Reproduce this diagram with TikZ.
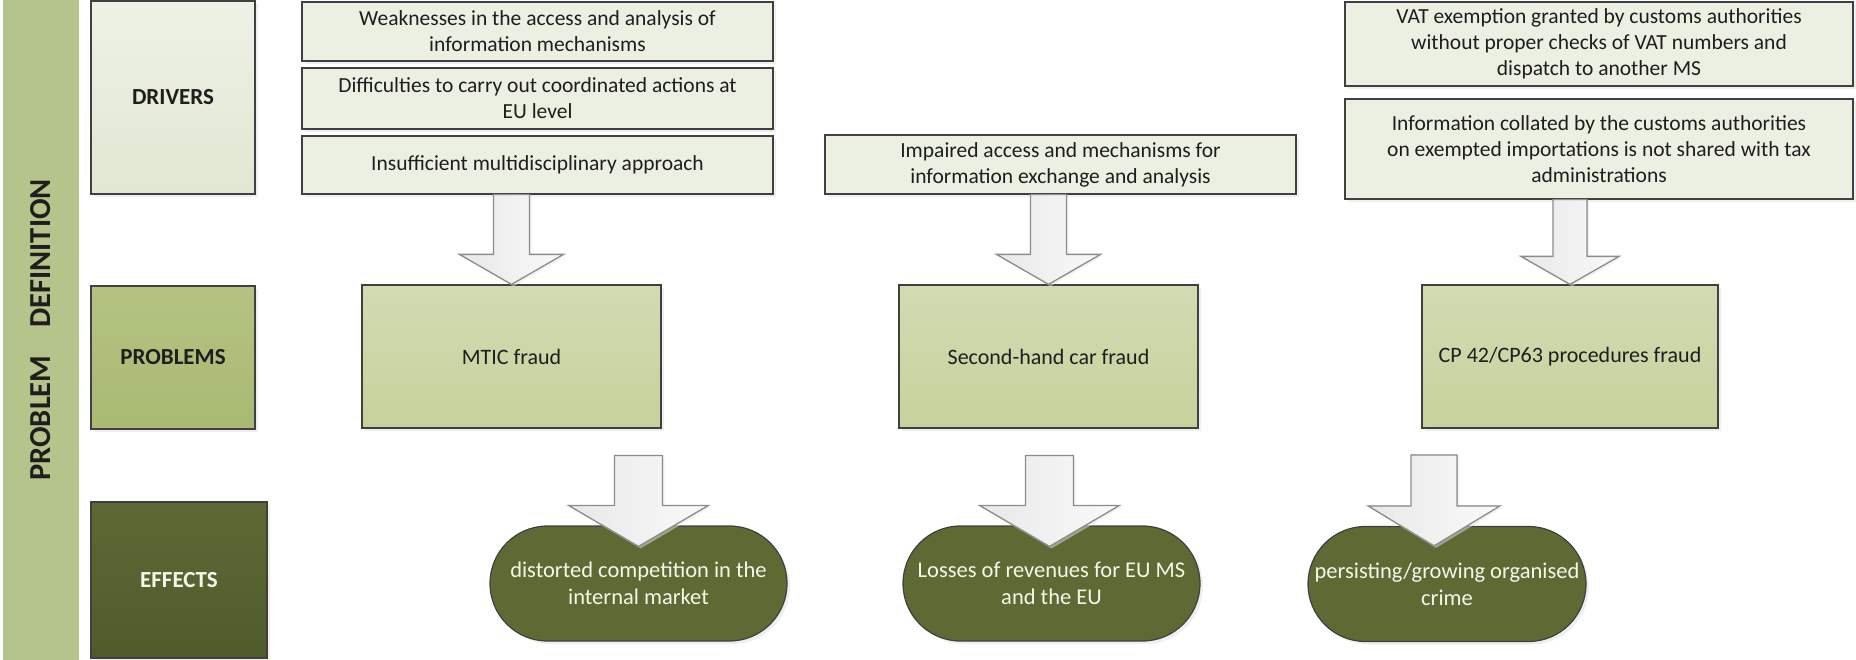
\documentclass[tikz,border=0pt]{standalone}
\usepackage{fontspec}
\setmainfont{Carlito}
\usepackage{tikz}
\usetikzlibrary{calc,shadows,shapes.misc}

% big hollow arrow: top point, tip point, half shaft, half head, head length
\newcommand{\blockarrow}[5]{%
	\filldraw[block arrow] ($(#1)+(-#3,0)$) -- ($(#2)+(-#3,-#5)$) -- ($(#2)+(-#4,-#5)$) -- (#2)
		-- ($(#2)+(#4,-#5)$) -- ($(#2)+(#3,-#5)$) -- ($(#1)+(#3,0)$) -- cycle;}

\begin{document}
\begin{tikzpicture}
			[x=1pt,y=-1pt,line cap=round,
			%Styles
			shade box/.style={drop shadow={shadow xshift=3pt,shadow yshift=-3pt,fill=black!12}},
			label box/.style={rectangle,draw=boxline,line width=1.2pt,shade box,minimum width=164pt,font=\fontsize{23}{28}\selectfont\bfseries},
			driver box/.style={rectangle,draw=boxline,line width=1.2pt,shade box,fill=drvfill,align=center,inner sep=1pt,text=textdark,font=\fontsize{21.5}{26}\selectfont},
			problem box/.style={rectangle,draw=boxline,line width=1.2pt,shade box,top color=probtop,bottom color=probbot,minimum width=299pt,minimum height=143pt,text=textdark,font=\fontsize{22}{26}\selectfont},
			effect box/.style={rounded rectangle,draw=boxline,line width=1.2pt,shade box,fill=efffill,minimum height=115pt,align=center,inner sep=1pt,text=efftext,font=\fontsize{22.5}{27}\selectfont},
			block arrow/.style={draw=arrowline,line width=1.3pt,line cap=butt,left color=black!9,right color=black!2,drop shadow={shadow xshift=2pt,shadow yshift=-2pt,fill=black!10}}
			]
			
			%Colors
			\definecolor{barfill}{RGB}{181,196,139}
			\definecolor{drvtop}{RGB}{238,241,230}
			\definecolor{drvbot}{RGB}{225,231,210}
			\definecolor{drvfill}{RGB}{236,240,227}
			\definecolor{plabtop}{RGB}{180,195,130}
			\definecolor{plabbot}{RGB}{169,186,114}
			\definecolor{probtop}{RGB}{210,219,178}
			\definecolor{probbot}{RGB}{198,210,156}
			\definecolor{elabtop}{RGB}{93,105,53}
			\definecolor{elabbot}{RGB}{80,91,44}
			\definecolor{efffill}{RGB}{94,106,52}
			\definecolor{boxline}{RGB}{64,64,64}
			\definecolor{arrowline}{RGB}{140,140,140}
			\definecolor{textdark}{RGB}{30,30,30}
			\definecolor{efftext}{RGB}{246,246,232}
			
			\useasboundingbox (0,0) rectangle (1856,660);
			
			%The graphic
			\node[fill=barfill,minimum width=76pt,minimum height=660pt] (PD) at (41,330) {};
			\node[rotate=90,text=textdark,font=\fontsize{30.5}{36}\selectfont\bfseries] at (PD.center) {PROBLEM\hspace{28pt}DEFINITION};
			
			\node[label box,top color=drvtop,bottom color=drvbot,minimum height=193pt,text=textdark] (LD) at (173,97.5) {DRIVERS};
			\node[label box,top color=plabtop,bottom color=plabbot,minimum height=143pt,text=textdark] (LP) at (173,357.5) {PROBLEMS};
			\node[label box,top color=elabtop,bottom color=elabbot,minimum width=176pt,minimum height=156pt,text=efftext] (LE) at (179,580) {EFFECTS};
			
			% drivers
			\node[driver box,minimum width=471pt,minimum height=59pt] (D11) at (537.5,31.5) {Weaknesses in the access and analysis of\\information mechanisms};
			\node[driver box,minimum width=471pt,minimum height=61pt] (D12) at (537.5,98.5) {Difficulties to carry out coordinated actions at\\EU level};
			\node[driver box,minimum width=471pt,minimum height=58pt] (D13) at (537.5,165) {Insufficient multidisciplinary approach};
			\node[driver box,minimum width=471pt,minimum height=59pt] (D21) at (1060.5,164.5) {Impaired access and mechanisms for\\information exchange and analysis};
			\node[driver box,minimum width=508pt,minimum height=84pt] (D31) at (1599,44) {VAT exemption granted by customs authorities\\without proper checks of VAT numbers and\\dispatch to another MS};
			\node[driver box,minimum width=508pt,minimum height=100pt] (D32) at (1599,149) {Information collated by the customs authorities\\on exempted importations is not shared with tax\\administrations};
			
			% problems
			\node[problem box] (P1) at (511.5,356.5) {MTIC fraud};
			\node[problem box] (P2) at (1048.5,356.5) {Second-hand car fraud};
			\node[problem box,minimum width=296pt] (P3) at (1570,356.5) {CP 42/CP63 procedures fraud};
			
			% effects
			\node[effect box,minimum width=299pt] (E1) at (638.5,583.5) {distorted competition in the\\internal market};
			\node[effect box,minimum width=299pt] (E2) at (1051.5,583.5) {Losses of revenues for EU MS\\and the EU};
			\node[effect box,minimum width=280pt] (E3) at (1447,584) {persisting/growing organised\\crime};
			
			% drivers -> problems
			\coordinate (A1) at (P1.north |- D13.south);
			\coordinate (A2) at (P2.north |- D21.south);
			\coordinate (A3) at (P3.north |- D32.south);
			\blockarrow{A1}{P1.north}{18}{52}{30}
			\blockarrow{A2}{P2.north}{18}{52}{30}
			\blockarrow{A3}{P3.north}{17}{49}{28}
			
			% problems -> effects
			\coordinate (B1) at ($(E1.north)+(0,-70)$);
			\coordinate (C1) at ($(E1.north)+(0,21)$);
			\coordinate (B2) at ($(E2.north)+(-2,-70)$);
			\coordinate (C2) at ($(E2.north)+(-2,21)$);
			\coordinate (B3) at ($(E3.north)+(-13,-71)$);
			\coordinate (C3) at ($(E3.north)+(-13,20)$);
			\blockarrow{B1}{C1}{24}{70}{41}
			\blockarrow{B2}{C2}{24}{70}{41}
			\blockarrow{B3}{C3}{23}{66}{40}
		\end{tikzpicture}
\end{document}
